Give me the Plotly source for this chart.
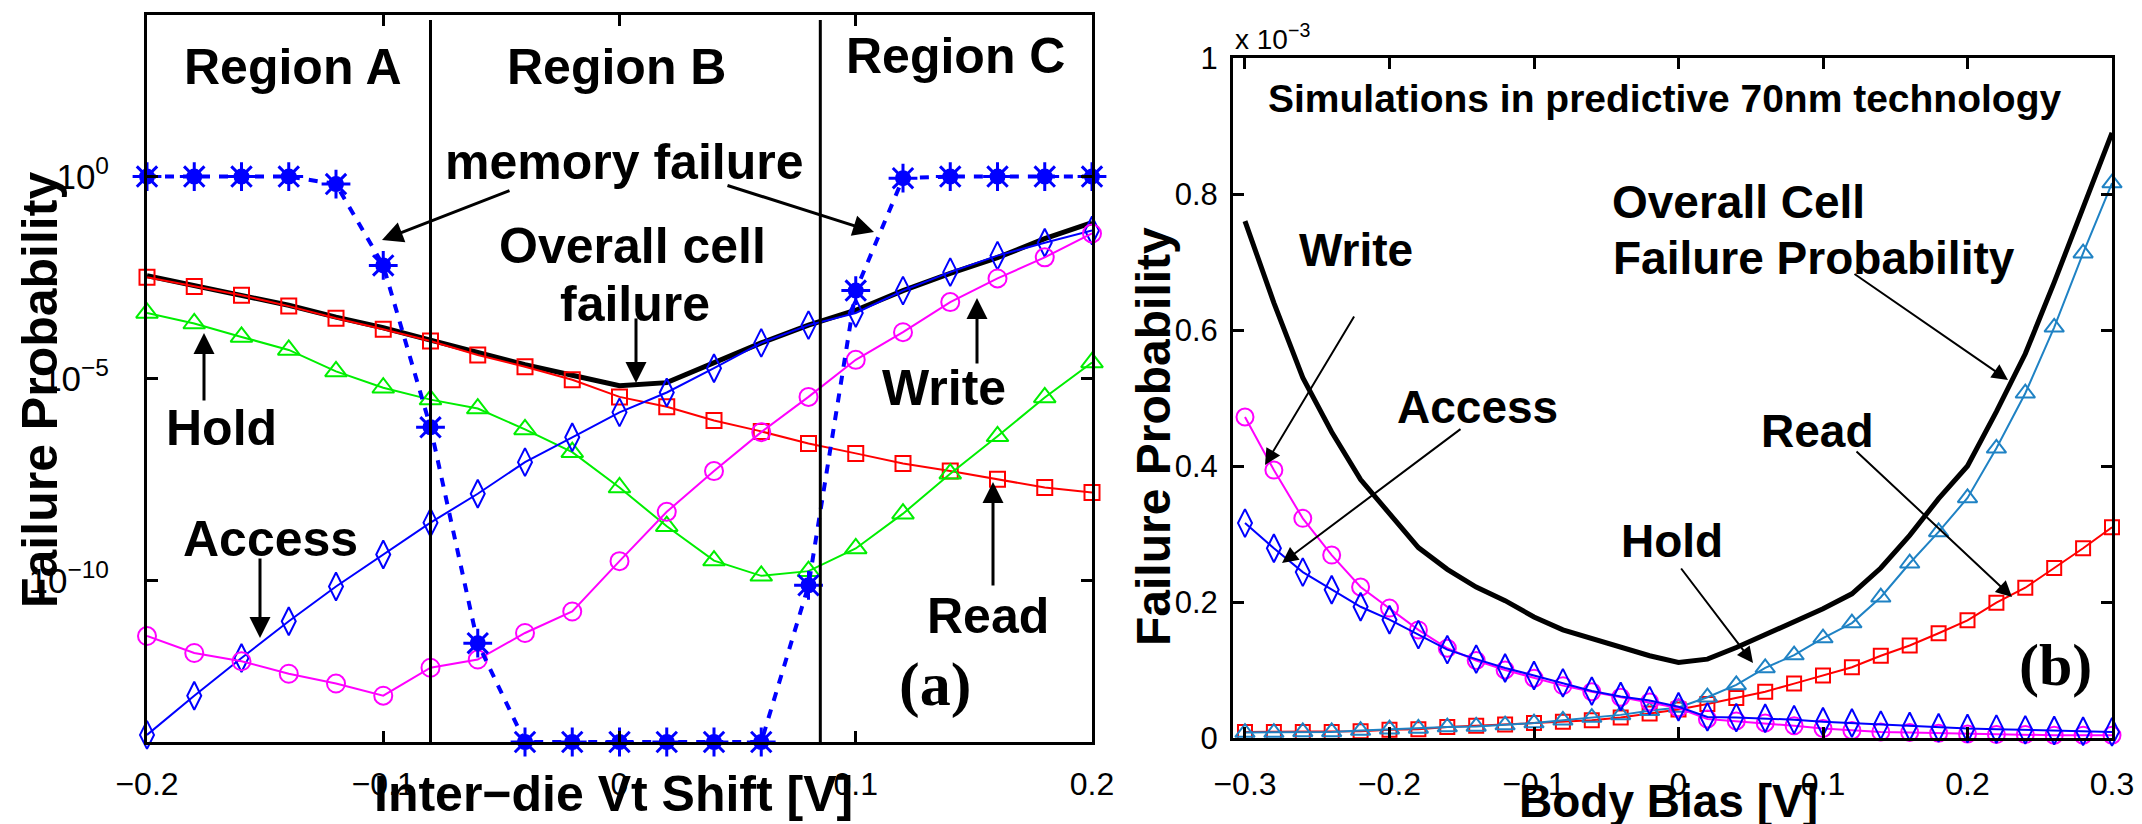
import plotly.graph_objects as go

W, H = 2142, 824

# ---------------- Panel (a): failure probability vs inter-die Vt shift ----------------
VT_SHIFT = [-0.20, -0.18, -0.16, -0.14, -0.12, -0.10, -0.08, -0.06, -0.04, -0.02,
            0.00, 0.02, 0.04, 0.06, 0.08, 0.10, 0.12, 0.14, 0.16, 0.18, 0.20]
READ_A = [3.2e-3, 1.9e-3, 1.15e-3, 6.2e-4, 3.1e-4, 1.66e-4, 8.5e-5, 3.8e-5, 1.95e-5, 9.3e-6,
          3.5e-6, 2.0e-6, 9.1e-7, 4.9e-7, 2.45e-7, 1.4e-7, 7.9e-8, 5.1e-8, 3.2e-8, 2.0e-8, 1.5e-8]
HOLD_A = [4.2e-4, 2.3e-4, 1.07e-4, 5.1e-5, 1.5e-5, 5.9e-6, 3.0e-6, 1.8e-6, 5.5e-7, 1.5e-7,
          2.0e-8, 2.2e-9, 3.1e-10, 1.3e-10, 1.7e-10, 6.2e-10, 4.5e-9, 4.4e-8, 3.7e-7, 3.4e-6, 2.5e-5]
ACCESS_A = [1.5e-14, 1.4e-13, 1.2e-12, 9.8e-12, 7.1e-11, 4.4e-10, 2.7e-9, 1.4e-8, 8.5e-8, 3.5e-7,
            1.45e-6, 4.5e-6, 1.8e-5, 7.6e-5, 2.1e-4, 4.2e-4, 1.5e-3, 4.3e-3, 1.1e-2, 2.3e-2, 4.6e-2]
WRITE_A = [4.2e-12, 1.6e-12, 1.0e-12, 4.9e-13, 2.8e-13, 1.4e-13, 6.9e-13, 1.1e-12, 5.0e-12, 1.7e-11,
           3.0e-10, 5.0e-9, 5.1e-8, 4.7e-7, 3.5e-6, 2.9e-5, 1.4e-4, 7.8e-4, 3.0e-3, 1.0e-2, 3.9e-2]
OVERALL_A = [3.5e-3, 2.0e-3, 1.2e-3, 6.5e-4, 3.3e-4, 1.8e-4, 8.9e-5, 4.3e-5, 2.2e-5, 1.2e-5,
             6.6e-6, 7.9e-6, 2.5e-5, 7.6e-5, 2.1e-4, 4.9e-4, 1.5e-3, 4.0e-3, 9.8e-3, 2.9e-2, 7.2e-2]
MEMORY_A = [1.0, 1.0, 1.0, 1.0, 0.65, 6.3e-3, 6.2e-7, 2.8e-12, 1e-14, 1e-14,
            1e-14, 1e-14, 1e-14, 1e-14, 7.6e-11, 1.5e-3, 0.91, 1.0, 1.0, 1.0, 1.0]
REGION_BOUNDS = [-0.08, 0.085]
X_TICKS_A = [-0.2, -0.1, 0.0, 0.1, 0.2]
X_TICKTEXT_A = ["\u22120.2", "\u22120.1", "0", "0.1", "0.2"]
Y_TICKS_A = [1e-10, 1e-5, 1.0]
Y_TICKTEXT_A = ["10<sup>\u221210</sup>", "10<sup>\u22125</sup>", "10<sup>0</sup>"]

# ---------------- Panel (b): failure probability (x1e-3) vs body bias ----------------
BODY_BIAS = [-0.30, -0.28, -0.26, -0.24, -0.22, -0.20, -0.18, -0.16, -0.14, -0.12, -0.10,
             -0.08, -0.06, -0.04, -0.02, 0.00, 0.02, 0.04, 0.06, 0.08, 0.10,
             0.12, 0.14, 0.16, 0.18, 0.20, 0.22, 0.24, 0.26, 0.28, 0.30]
OVERALL_B = [0.76, 0.64, 0.53, 0.45, 0.38, 0.33, 0.28, 0.248, 0.222, 0.202, 0.178,
             0.159, 0.146, 0.134, 0.121, 0.111, 0.116, 0.133, 0.152, 0.172, 0.190,
             0.212, 0.250, 0.298, 0.352, 0.40, 0.48, 0.565, 0.67, 0.78, 0.89]
HOLD_B = [0.008, 0.008, 0.009, 0.009, 0.011, 0.013, 0.014, 0.016, 0.017, 0.019, 0.022,
          0.026, 0.030, 0.034, 0.040, 0.045, 0.060, 0.078, 0.103, 0.122, 0.147,
          0.169, 0.207, 0.257, 0.303, 0.353, 0.426, 0.507, 0.604, 0.713, 0.816]
READ_B = [0.009, 0.009, 0.009, 0.009, 0.010, 0.012, 0.013, 0.016, 0.018, 0.020, 0.022,
          0.024, 0.026, 0.030, 0.036, 0.042, 0.050, 0.059, 0.068, 0.080, 0.092,
          0.104, 0.121, 0.136, 0.154, 0.173, 0.199, 0.221, 0.250, 0.279, 0.310]
ACCESS_B = [0.316, 0.279, 0.244, 0.218, 0.193, 0.174, 0.152, 0.130, 0.116, 0.103, 0.092,
            0.081, 0.069, 0.061, 0.055, 0.046, 0.031, 0.030, 0.029, 0.027, 0.024,
            0.022, 0.019, 0.017, 0.015, 0.014, 0.013, 0.012, 0.011, 0.010, 0.009]
WRITE_B = [0.472, 0.394, 0.323, 0.269, 0.222, 0.191, 0.159, 0.132, 0.114, 0.100, 0.088,
           0.077, 0.068, 0.060, 0.053, 0.044, 0.028, 0.025, 0.022, 0.018, 0.014,
           0.011, 0.009, 0.008, 0.007, 0.006, 0.005, 0.005, 0.004, 0.004, 0.004]
X_TICKS_B = [-0.3, -0.2, -0.1, 0.0, 0.1, 0.2, 0.3]
X_TICKTEXT_B = ["\u22120.3", "\u22120.2", "\u22120.1", "0", "0.1", "0.2", "0.3"]
Y_TICKS_B = [0, 0.2, 0.4, 0.6, 0.8, 1.0]
Y_TICKTEXT_B = ["0", "0.2", "0.4", "0.6", "0.8", "1"]

SANS = "Liberation Sans, Arial, Helvetica, sans-serif"
SERIF = "Liberation Serif, Times New Roman, serif"


def px(x):
    return x / W


def py(y):
    return 1 - y / H


fig = go.Figure()


def series(x, y, color, symbol, size, xa, ya, width=2, name=""):
    fig.add_trace(go.Scatter(
        x=x, y=y, mode="lines+markers", name=name, xaxis=xa, yaxis=ya,
        line=dict(color=color, width=width),
        marker=dict(symbol=symbol, size=size, color=color, line=dict(color=color, width=2)),
        cliponaxis=False, showlegend=False))


# Panel (a) traces
fig.add_trace(go.Scatter(x=VT_SHIFT, y=OVERALL_A, mode="lines", xaxis="x", yaxis="y",
                         line=dict(color="black", width=5), showlegend=False))
series(VT_SHIFT, READ_A, "#FF0000", "square-open", 15, "x", "y", name="Read")
series(VT_SHIFT, HOLD_A, "#00EE00", "triangle-up-open", 19, "x", "y", name="Hold")
series(VT_SHIFT, ACCESS_A, "#0000FF", "diamond-tall-open", 20, "x", "y", name="Access")
series(VT_SHIFT, WRITE_A, "#FF00FF", "circle-open", 18, "x", "y", name="Write")
fig.add_trace(go.Scatter(x=VT_SHIFT, y=MEMORY_A, mode="lines+markers", xaxis="x", yaxis="y",
                         line=dict(color="#0000FF", width=4, dash="9px,9px"),
                         marker=dict(symbol="circle", size=16, color="#0000FF"),
                         cliponaxis=False, showlegend=False))
fig.add_trace(go.Scatter(x=VT_SHIFT, y=MEMORY_A, mode="markers", xaxis="x", yaxis="y",
                         marker=dict(symbol="asterisk-open", size=24, color="#0000FF",
                                     line=dict(color="#0000FF", width=3)),
                         cliponaxis=False, showlegend=False))

# Panel (b) traces
fig.add_trace(go.Scatter(x=BODY_BIAS, y=OVERALL_B, mode="lines", xaxis="x2", yaxis="y2",
                         line=dict(color="black", width=5), showlegend=False))
series(BODY_BIAS, READ_B, "#FF0000", "square-open", 14, "x2", "y2", name="Read")
series(BODY_BIAS, HOLD_B, "#1F82C4", "triangle-up-open", 17, "x2", "y2", name="Hold")
series(BODY_BIAS, WRITE_B, "#FF00FF", "circle-open", 17, "x2", "y2", name="Write")
series(BODY_BIAS, ACCESS_B, "#0000FF", "diamond-tall-open", 20, "x2", "y2", name="Access")

# Region boundaries
for b in REGION_BOUNDS:
    fig.add_shape(type="line", xref="x", yref="y domain", x0=b, x1=b, y0=0, y1=0.993,
                  line=dict(color="black", width=3))

axis_common = dict(showline=True, linecolor="black", linewidth=3, mirror="ticks",
                   ticks="inside", ticklen=11, tickwidth=2.5, tickcolor="black",
                   showgrid=False, zeroline=False, automargin=False)

fig.update_layout(
    width=W, height=H, autosize=False,
    margin=dict(l=0, r=0, t=0, b=0, pad=0, autoexpand=False),
    paper_bgcolor="white", plot_bgcolor="white",
    showlegend=False,
    xaxis=dict(domain=[px(147), px(1092)], range=[-0.2, 0.2], anchor="y",
               tickvals=X_TICKS_A, ticktext=X_TICKTEXT_A,
               tickfont=dict(family=SANS, size=32, color="black"), ticklabelstandoff=12,
               **axis_common),
    yaxis=dict(domain=[py(742), py(15)], type="log", range=[-14, 4], anchor="x",
               tickvals=Y_TICKS_A, ticktext=Y_TICKTEXT_A,
               tickfont=dict(family=SANS, size=35, color="black"), ticklabelstandoff=28,
               **axis_common),
    xaxis2=dict(domain=[px(1233), px(2112)], range=[-0.3083, 0.3], anchor="y2",
                tickvals=X_TICKS_B, ticktext=X_TICKTEXT_B,
                tickfont=dict(family=SANS, size=32, color="black"), ticklabelstandoff=16,
                **axis_common),
    yaxis2=dict(domain=[py(738), py(58)], range=[0, 1], anchor="x2",
                tickvals=Y_TICKS_B, ticktext=Y_TICKTEXT_B,
                tickfont=dict(family=SANS, size=31, color="black"), ticklabelstandoff=6,
                **axis_common),
)


def label(text, x, y, size=50, xanchor="center", family=SANS, bold=True, angle=0):
    fig.add_annotation(text=(f"<b>{text}</b>" if bold else text), x=px(x), y=py(y),
                       xref="paper", yref="paper", xanchor=xanchor, yanchor="middle",
                       showarrow=False, textangle=angle,
                       font=dict(family=family, size=size, color="black"))


def arrow(tail, tip, width=3, size=1.4):
    fig.add_annotation(text="", x=px(tip[0]), y=py(tip[1]), xref="paper", yref="paper",
                       ax=tail[0] - tip[0], ay=tail[1] - tip[1], axref="pixel", ayref="pixel",
                       showarrow=True, arrowhead=2, arrowsize=size, arrowwidth=width,
                       arrowcolor="black", standoff=0, startstandoff=0)


# Panel (a) labels
label("Region A", 293, 67)
label("Region B", 616, 67)
label("Region C", 955, 56)
label("memory failure", 624, 162)
label("Overall cell", 632, 246)
label("failure", 635, 304)
label("Hold", 221, 428)
label("Access", 270, 539)
label("Write", 944, 388)
label("Read", 988, 616)
label("(a)", 935, 684, size=62, family=SERIF)
arrow((511, 190), (382, 240))
arrow((726, 185), (874, 232))
arrow((636, 317), (636, 383))
arrow((204, 402), (204, 333))
arrow((260, 557), (260, 638))
arrow((977, 365), (977, 298))
arrow((993, 587), (993, 482))
label("Failure Probability", 40, 390, size=50, angle=-90)
label("Inter\u2212die Vt Shift [V]", 613, 794, size=50)

# Panel (b) labels
label("x 10<sup>\u22123</sup>", 1233, 37, size=28, xanchor="left", bold=False)
label("Simulations in predictive 70nm technology", 1664, 98, size=39)
label("Overall Cell", 1610, 202, size=46, xanchor="left")
label("Failure Probability", 1611, 258, size=46, xanchor="left")
label("Write", 1356, 250, size=46)
label("Access", 1477, 407, size=46)
label("Hold", 1672, 541, size=46)
label("Read", 1817, 431, size=46)
label("(b)", 2055, 665, size=60, family=SERIF)
arrow((1853, 273), (2008, 380), width=2, size=1.6)
arrow((1355, 315), (1265, 465), width=2, size=1.6)
arrow((1462, 428), (1282, 563), width=2, size=1.6)
arrow((1680, 567), (1753, 663), width=2, size=1.6)
arrow((1855, 450), (2012, 597), width=2, size=1.6)
label("Failure Probability", 1153, 437, size=48, angle=-90)
label("Body Bias [V]", 1668, 801, size=46)

fig.write_html("out.html")
